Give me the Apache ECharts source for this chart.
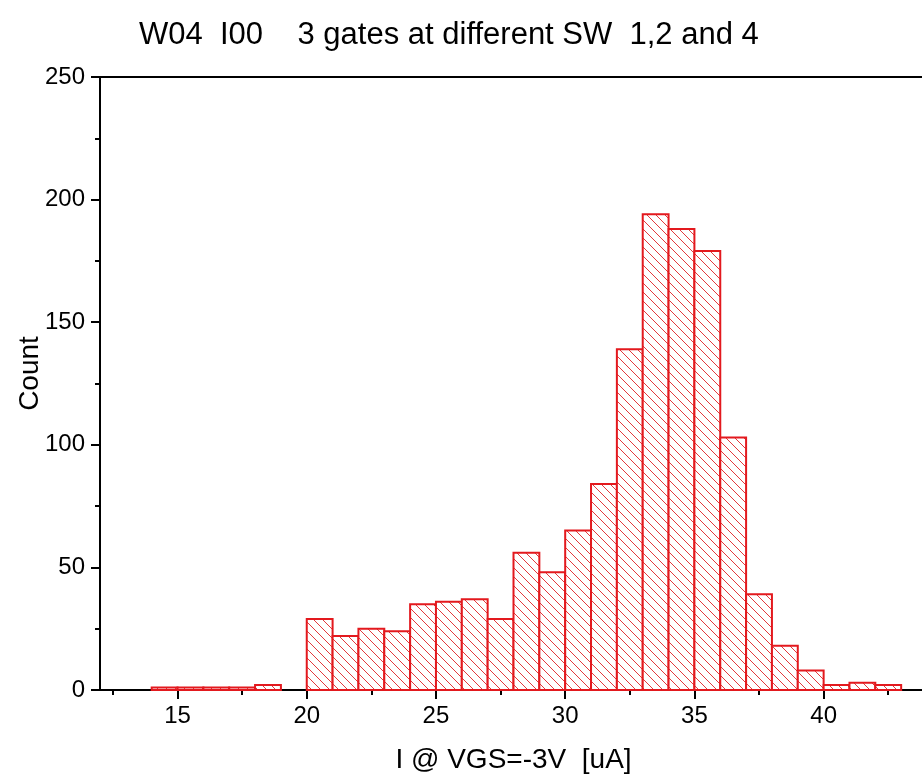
<!DOCTYPE html>
<html>
<head>
<meta charset="utf-8">
<script src="https://cdn.jsdelivr.net/npm/echarts@6/dist/echarts.min.js"></script>
<style>
  html, body { margin: 0; padding: 0; background: #fff; }
  #chart { width: 922px; height: 777px; }
</style>
</head>
<body>
<div id="chart"></div>
<script>
// histogram bins (left edge, width 1 uA) and counts
var binStart = [14, 15, 16, 17, 18, 19, 20, 21, 22, 23, 24, 25, 26, 27, 28, 29, 30, 31, 32, 33, 34, 35, 36, 37, 38, 39, 40, 41, 42]
var counts = [1, 1, 1, 1, 2, 0, 29, 22, 25, 24, 35, 36, 37, 29, 56, 48, 65, 84, 139, 194, 188, 179, 103, 39, 18, 8, 2, 3, 2]
var binWidth = 1

var xMajorTicks = [15, 20, 25, 30, 35, 40]
var xMinorTicks = [12.5, 17.5, 22.5, 27.5, 32.5, 37.5, 42.5]

var red = '#e3191e'
var font = "'Liberation Sans', Arial, sans-serif"

// hatch pattern "\\\\"
function makeHatch() {
  var n = 9
  var c = document.createElement('canvas')
  c.width = n
  c.height = n
  var ctx = c.getContext('2d')
  ctx.fillStyle = '#fff'
  ctx.fillRect(0, 0, n, n)
  ctx.strokeStyle = '#e3393d'
  ctx.lineWidth = 1
  for (var k = -1; k <= 1; k++) {
    ctx.beginPath()
    ctx.moveTo(k * n, 0)
    ctx.lineTo(k * n + n, n)
    ctx.stroke()
  }
  return c
}
var hatch = { image: makeHatch(), repeat: 'repeat' }

var data = []
binStart.forEach(function(s, i) {
  if (counts[i] > 0) data.push([s, s + binWidth, counts[i]])
})

var chart = echarts.init(document.getElementById('chart'))
chart.setOption({
  animation: false,
  backgroundColor: '#fff',
  title: {
    text: 'W04  I00    3 gates at different SW  1,2 and 4',
    left: 134,
    top: 15,
    textStyle: { color: '#000', fontFamily: font, fontSize: 31, fontWeight: 'normal' }
  },
  grid: {
    left: 100,
    top: 77,
    width: 827,
    bottom: 87,
    outerBoundsMode: 'none'
  },
  xAxis: [
    {
      type: 'value',
      min: 12,
      max: 44,
      position: 'bottom',
      name: 'I @ VGS=-3V  [uA]',
      nameLocation: 'middle',
      nameGap: 56,
      nameMoveOverlap: false,
      nameTextStyle: { color: '#000', fontFamily: font, fontSize: 28 },
      axisLine: { show: true, onZero: false, lineStyle: { color: '#000', width: 2 } },
      axisTick: { show: true, length: 9, customValues: xMajorTicks, lineStyle: { color: '#000', width: 2 } },
      axisLabel: { color: '#000', fontFamily: font, fontSize: 24, margin: 14, customValues: xMajorTicks },
      splitLine: { show: false }
    },
    {
      type: 'value',
      min: 12,
      max: 44,
      position: 'bottom',
      axisLine: { show: false, onZero: false },
      axisTick: { show: true, length: 5, customValues: xMinorTicks, lineStyle: { color: '#000', width: 2 } },
      axisLabel: { show: false },
      splitLine: { show: false }
    },
    {
      type: 'value',
      min: 12,
      max: 44,
      position: 'top',
      axisLine: { show: true, onZero: false, lineStyle: { color: '#000', width: 2 } },
      axisTick: { show: false },
      axisLabel: { show: false },
      splitLine: { show: false }
    }
  ],
  yAxis: {
    type: 'value',
    min: 0,
    max: 250,
    interval: 50,
    name: 'Count',
    nameLocation: 'middle',
    nameGap: 56,
    nameMoveOverlap: false,
    nameTextStyle: { color: '#000', fontFamily: font, fontSize: 28, padding: [0, 0, 0, 20] },
    axisLine: { show: true, lineStyle: { color: '#000', width: 2 } },
    axisTick: { show: true, length: 9, lineStyle: { color: '#000', width: 2 } },
    minorTick: { show: true, splitNumber: 2, length: 5, lineStyle: { color: '#000', width: 2 } },
    axisLabel: { color: '#000', fontFamily: font, fontSize: 24, margin: 15 },
    splitLine: { show: false }
  },
  series: [
    {
      type: 'custom',
      xAxisIndex: 0,
      yAxisIndex: 0,
      data: data,
      renderItem: function(params, api) {
        var p0 = api.coord([api.value(0), 0])
        var p1 = api.coord([api.value(1), api.value(2)])
        return {
          type: 'rect',
          shape: { x: p0[0], y: p1[1], width: p1[0] - p0[0], height: p0[1] - p1[1] },
          style: { fill: hatch, stroke: red, lineWidth: 2 }
        }
      }
    }
  ]
})
</script>
</body>
</html>
